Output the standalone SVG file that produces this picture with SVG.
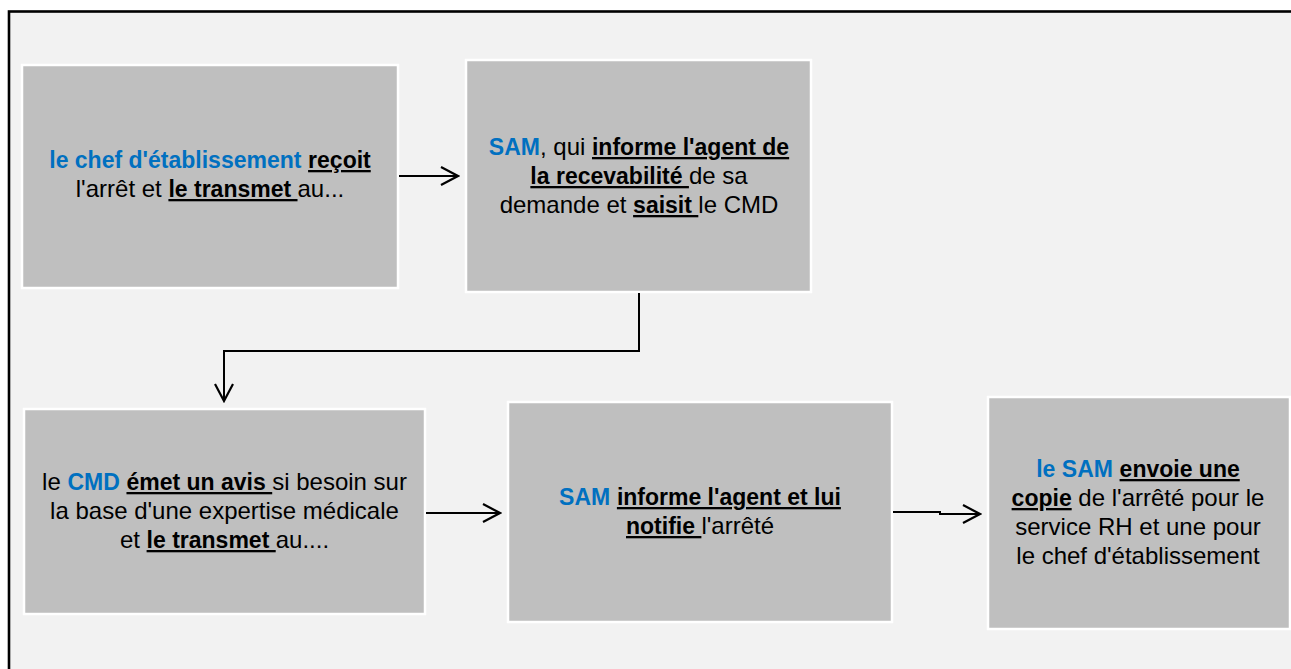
<svg xmlns="http://www.w3.org/2000/svg" width="1291" height="669" viewBox="0 0 1291 669">
<defs>
<style>
.box{fill:#bfbfbf;stroke:#ffffff;stroke-width:2.5}
.t{font-family:"Liberation Sans",Arial,sans-serif;font-size:24px;fill:#000;text-anchor:middle}
.b{font-weight:bold;font-size:23px}
.u{text-decoration:underline}
.blue{fill:#0070c0;font-weight:bold;font-size:23px}
.c{fill:none;stroke:#000;stroke-width:2}
</style>
<marker id="ah" viewBox="0 0 20 20" refX="18" refY="10" markerWidth="20" markerHeight="20" markerUnits="userSpaceOnUse" orient="auto">
<path d="M1,1 L18,10 L1,19" fill="none" stroke="#000" stroke-width="2.2"/>
</marker>
</defs>
<rect x="0" y="0" width="1291" height="669" fill="#ffffff"/>
<rect x="9" y="11.5" width="1300" height="700" fill="#f2f2f2" stroke="#000" stroke-width="2.6"/>

<g id="node1">
<rect class="box" x="22" y="65" width="376" height="223"/>
<text class="t" xml:space="preserve"><tspan x="210" y="168"><tspan class="blue">le chef d'établissement</tspan> <tspan class="b u">reçoit</tspan></tspan><tspan x="210" y="197">l'arrêt et <tspan class="b u">le transmet </tspan>au...</tspan></text>
</g>

<g id="node2">
<rect class="box" x="466" y="60" width="345" height="232"/>
<text class="t" xml:space="preserve"><tspan x="639" y="155"><tspan class="blue">SAM</tspan>, qui <tspan class="b u">informe l'agent de</tspan></tspan><tspan x="639" y="184"><tspan class="b u">la recevabilité </tspan>de sa</tspan><tspan x="639" y="213">demande et <tspan class="b u">saisit </tspan>le CMD</tspan></text>
</g>

<g id="node3">
<rect class="box" x="24" y="409" width="401" height="205"/>
<text class="t" xml:space="preserve"><tspan x="224.5" y="490">le <tspan class="blue">CMD</tspan> <tspan class="b u">émet un avis </tspan>si besoin sur</tspan><tspan x="224.5" y="519">la base d'une expertise médicale</tspan><tspan x="224.5" y="548">et <tspan class="b u">le transmet </tspan>au....</tspan></text>
</g>

<g id="node4">
<rect class="box" x="508" y="402" width="384" height="220"/>
<text class="t" xml:space="preserve"><tspan x="700" y="505"><tspan class="blue">SAM</tspan> <tspan class="b u">informe l'agent et lui</tspan></tspan><tspan x="700" y="534"><tspan class="b u">notifie </tspan>l'arrêté</tspan></text>
</g>

<g id="node5">
<rect class="box" x="988" y="397" width="302" height="232"/>
<text class="t" xml:space="preserve"><tspan x="1138" y="477"><tspan class="blue">le SAM</tspan> <tspan class="b u">envoie une</tspan></tspan><tspan x="1138" y="506"><tspan class="b u">copie</tspan> de l'arrêté pour le</tspan><tspan x="1138" y="535">service RH et une pour</tspan><tspan x="1138" y="564">le chef d'établissement</tspan></text>
</g>

<g id="connectors">
<path class="c" d="M399,176 L458,176" marker-end="url(#ah)"/>
<path class="c" d="M639,293 L639,351 L224,351 L224,401" marker-end="url(#ah)"/>
<path class="c" d="M426,513 L500,513" marker-end="url(#ah)"/>
<path class="c" d="M893,512 L940,512 L940,514 L980,514" marker-end="url(#ah)"/>
</g>
</svg>
